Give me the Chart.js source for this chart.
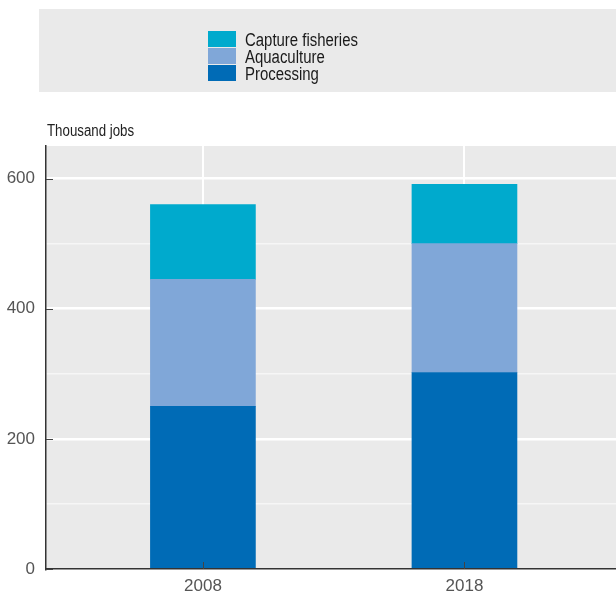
<!DOCTYPE html>
<html>
<head>
<meta charset="utf-8">
<script src="https://cdn.jsdelivr.net/npm/chart.js@4/dist/chart.umd.min.js"></script>
<style>
  html, body { margin: 0; padding: 0; background: #fff; overflow: hidden; }
  #wrap { width: 616px; height: 593px; overflow: hidden; }
</style>
</head>
<body>
<div id="wrap"><canvas id="jobsChart" width="624" height="593"></canvas></div>
<script>
// data (thousand jobs)
var years = [2008, 2018];
var processing = [250, 302];
var aquaculture = [195, 198];
var capture = [115, 91];
var yTicks = [0, 100, 200, 300, 400, 500, 600];

var pts = function (vals) {
  return years.map(function (y, i) { return { x: y, y: vals[i] }; });
};

var FONT = "'Liberation Sans', Arial, sans-serif";

// narrow-looking text: regular face squeezed horizontally
function narrowText(ctx, txt, x, y, size, sx) {
  ctx.save();
  ctx.translate(x, y);
  ctx.scale(sx, 1);
  ctx.font = size + 'px ' + FONT;
  ctx.fillText(txt, 0, 0);
  ctx.restore();
}

// grey panels, legend box, unit label and inward tick marks
var decor = {
  id: 'decor',
  beforeDraw: function (chart) {
    var ctx = chart.ctx, a = chart.chartArea;
    ctx.save();
    ctx.fillStyle = '#eaeaea';
    ctx.fillRect(a.left, a.top, a.right - a.left, a.bottom - a.top);
    ctx.fillRect(39, 9, 624 - 39, 83);

    // legend, top item = top of stack
    var ds = chart.data.datasets.slice().reverse();
    ds.forEach(function (d, i) {
      var y = 31 + i * 17;
      ctx.fillStyle = d.backgroundColor;
      ctx.fillRect(208, y, 28, 16);
      ctx.fillStyle = '#1a1a1a';
      ctx.textBaseline = 'alphabetic';
      narrowText(ctx, d.label, 245, y + 15, 18, 0.83);
    });

    ctx.fillStyle = '#222';
    ctx.textBaseline = 'alphabetic';
    narrowText(ctx, 'Thousand jobs', a.left + 1, 136, 16, 0.83);
    ctx.restore();
  },
  afterDatasetsDraw: function (chart) {
    var ctx = chart.ctx, a = chart.chartArea;
    var sy = chart.scales.y, sx = chart.scales.x;
    ctx.save();
    ctx.strokeStyle = '#444';
    ctx.lineWidth = 1;
    yTicks.forEach(function (v) {
      if (v % 200 !== 0) return;
      var p = Math.round(sy.getPixelForValue(v)) + 0.5;
      ctx.beginPath();
      ctx.moveTo(a.left, p);
      ctx.lineTo(a.left + 7, p);
      ctx.stroke();
    });
    years.forEach(function (v) {
      var p = Math.round(sx.getPixelForValue(v)) + 0.5;
      ctx.beginPath();
      ctx.moveTo(p, a.bottom);
      ctx.lineTo(p, a.bottom - 7);
      ctx.stroke();
    });
    ctx.restore();
  }
};

new Chart(document.getElementById('jobsChart'), {
  type: 'bar',
  data: {
    datasets: [
      { label: 'Processing', data: pts(processing), backgroundColor: '#006bb6' },
      { label: 'Aquaculture', data: pts(aquaculture), backgroundColor: '#80a7d8' },
      { label: 'Capture fisheries', data: pts(capture), backgroundColor: '#00aacd' }
    ]
  },
  options: {
    responsive: false,
    animation: false,
    barThickness: 105,
    layout: { padding: { top: 146, right: 0, left: 0, bottom: 0 } },
    plugins: {
      legend: { display: false },
      tooltip: { enabled: false }
    },
    scales: {
      x: {
        type: 'linear',
        stacked: true,
        offset: false,
        min: 2002,
        max: 2024.1,
        afterBuildTicks: function (s) { s.ticks = years.map(function (v) { return { value: v }; }); },
        afterFit: function (s) { s.height = 24; },
        border: { color: '#333', width: 1.5 },
        grid: { color: '#ffffff', lineWidth: 2, drawTicks: false, offset: false },
        ticks: {
          callback: function (v) { return String(v); },
          color: '#555',
          font: { family: FONT, size: 17 },
          padding: 7,
          maxRotation: 0
        }
      },
      y: {
        stacked: true,
        min: 0,
        max: 650,
        afterBuildTicks: function (s) { s.ticks = yTicks.map(function (v) { return { value: v }; }); },
        afterFit: function (s) { s.width = 46; },
        border: { color: '#333', width: 1.5 },
        grid: {
          color: function (c) { return c.tick && c.tick.value % 200 === 0 ? '#ffffff' : '#f6f6f6'; },
          lineWidth: function (c) { return c.tick && c.tick.value % 200 === 0 ? 2.5 : 1.5; },
          drawTicks: false
        },
        ticks: {
          callback: function (v) { return v % 200 === 0 ? v : ''; },
          color: '#555',
          font: { family: FONT, size: 17 },
          padding: 11
        }
      }
    }
  },
  plugins: [decor]
});
</script>
</body>
</html>
